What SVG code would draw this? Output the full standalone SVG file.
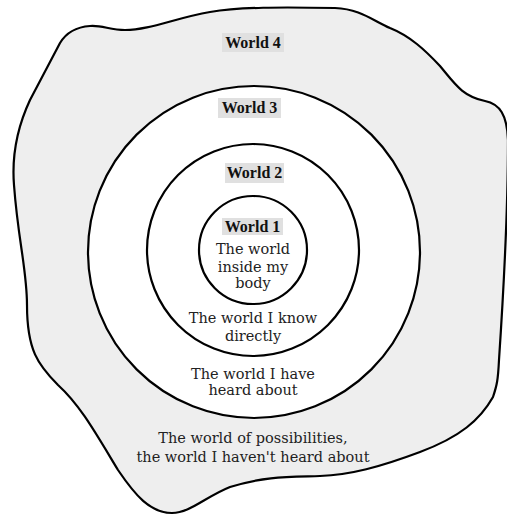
<svg xmlns="http://www.w3.org/2000/svg" width="507" height="515" viewBox="0 0 507 515">
<style>
.shape{stroke:#000;stroke-width:2.2;stroke-linejoin:round}
.lbl{fill:#e0e0e0}
.t{font-family:"DejaVu Serif","Liberation Serif",serif;font-size:14.5px;fill:#222;text-anchor:middle}
.b{font-family:"Liberation Serif","DejaVu Serif",serif;font-size:16px;font-weight:bold;fill:#111;text-anchor:middle}
</style>
<rect width="507" height="515" fill="#fff"/>
<g id="world4">
<path class="shape" fill="#eeeeee" d="M60,43 C66,33 76,27 90,26 C102,25 110,30 125,30 C150,30 175,18 210,12 C240,7 280,7 335,8 C360,9 372,20 390,28 C410,36 425,50 440,66 C455,84 462,96 485,101 C500,104 507,115 508,140 C508,200 503,300 499,360 C498,380 497,385 493,397 C480,420 460,437 420,452 C380,467 350,475 320,476 C290,477 265,476 230,487 C205,497 190,513 172,513 C150,513 135,495 118,470 C95,432 80,405 58,385 C38,365 27,350 27,305 C27,270 18,240 14,185 C12,160 16,130 30,100 Z"/>
<rect class="lbl" x="222" y="33" width="62" height="19"/>
<text class="b" x="253" y="48">World 4</text>
<text class="t" x="253" y="443">The world of possibilities,</text>
<text class="t" x="253" y="462">the world I haven't heard about</text>
</g>
<g id="world3">
<circle class="shape" fill="#fff" cx="254" cy="252" r="166"/>
<rect class="lbl" x="218" y="98" width="63" height="20"/>
<text class="b" x="249.5" y="113">World 3</text>
<text class="t" x="253" y="379">The world I have</text>
<text class="t" x="253" y="395">heard about</text>
</g>
<g id="world2">
<circle class="shape" fill="#fff" cx="253" cy="250" r="106"/>
<rect class="lbl" x="225" y="163" width="59" height="20"/>
<text class="b" x="254.5" y="178">World 2</text>
<text class="t" x="253" y="323">The world I know</text>
<text class="t" x="253" y="341">directly</text>
</g>
<g id="world1">
<circle class="shape" fill="#fff" cx="253" cy="250" r="54"/>
<rect class="lbl" x="222" y="218" width="61" height="17"/>
<text class="b" x="252.5" y="232">World 1</text>
<text class="t" x="253" y="254">The world</text>
<text class="t" x="253" y="272">inside my</text>
<text class="t" x="253" y="288">body</text>
</g>
<g id="connectors"/>
</svg>
